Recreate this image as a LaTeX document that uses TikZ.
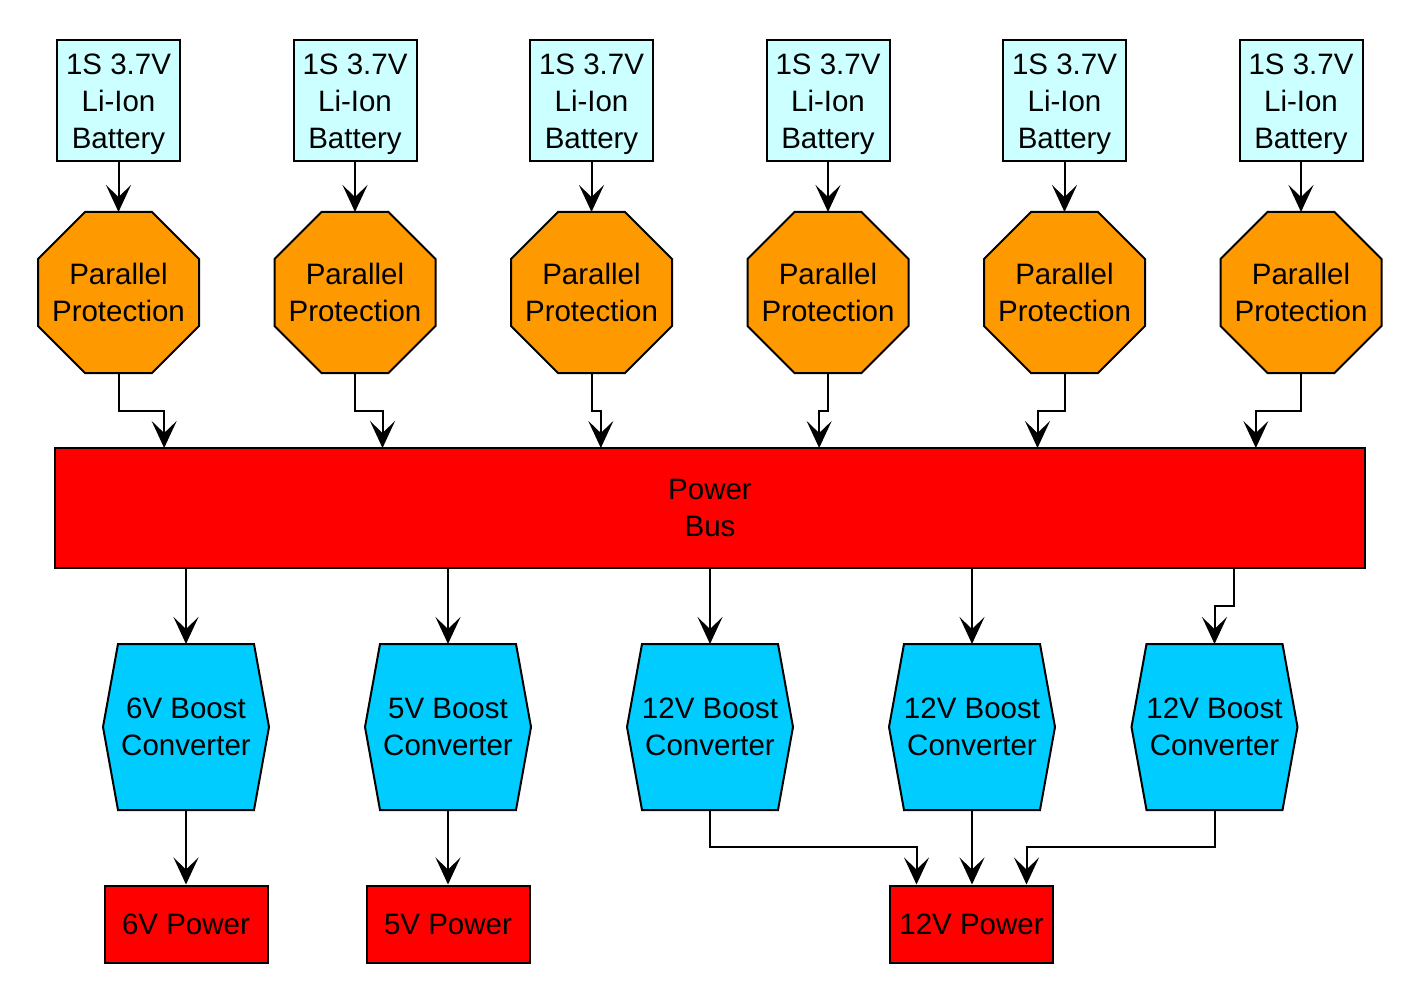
\documentclass[tikz,border=0pt]{standalone}
\usepackage{fontspec}
\setmainfont{Liberation Sans}
\usetikzlibrary{arrows.meta,calc,backgrounds}
\definecolor{battfill}{HTML}{CCFFFF}
\definecolor{protfill}{HTML}{FF9900}
\definecolor{busred}{HTML}{FF0000}
\definecolor{convfill}{HTML}{00CCFF}
\begin{document}
\begin{tikzpicture}[x=1pt,y=-1pt]
\tikzset{
  lbl/.style={font=\fontsize{29.5pt}{37pt}\selectfont, align=center, text=black},
  base/.style={lbl, draw=black, line width=2pt, inner sep=2pt},
  batt/.style={draw=black, line width=2pt, rectangle, fill=battfill, minimum width=123pt, minimum height=121pt, inner sep=0pt},
  prot/.style={lbl, minimum width=161pt, minimum height=161pt, inner sep=0pt, outer sep=0pt},
  octa/.style={fill=protfill, draw=black, line width=2pt},
  busbox/.style={base, rectangle, fill=busred, minimum width=1310pt, minimum height=120pt, outer sep=0pt},
  conv/.style={lbl, minimum width=166pt, minimum height=166pt, inner sep=0pt, outer sep=0pt},
  hexa/.style={fill=convfill, draw=black, line width=2pt},
  pwr/.style={base, rectangle, fill=busred, minimum width=163pt, minimum height=77pt},
  arr/.style={draw=black, line width=2pt, -{Stealth[length=27pt,width=25pt,inset=12pt]}},
}
\useasboundingbox (0,0) rectangle (1419,1000);
% batteries and protection
\foreach \i/\x in {1/118.5,2/355,3/591.5,4/828,5/1064.5,6/1301}{
  \node[batt] (b\i) at (\x,100.5) {};
  \node[lbl, inner sep=0pt] (bt\i) at ($(b\i.center)+(0,4)$) {1S 3.7V\\Li-Ion\\Battery};
  \node[prot] (o\i) at (\x,292.5) {Parallel\\Protection};
}
\begin{scope}[on background layer]
\foreach \i in {1,...,6}{
  \path[octa] ($(o\i.north west)+(47,0)$) -- ($(o\i.north east)+(-47,0)$) -- ($(o\i.north east)+(0,47)$)
    -- ($(o\i.south east)+(0,-47)$) -- ($(o\i.south east)+(-47,0)$) -- ($(o\i.south west)+(47,0)$)
    -- ($(o\i.south west)+(0,-47)$) -- ($(o\i.north west)+(0,47)$) -- cycle;
}
\end{scope}
% bus
\node[busbox] (bus) at (710,508) {Power\\Bus};
% converters
\node[conv] (c1) at (186,727) {6V Boost\\Converter};
\node[conv] (c2) at (448,727) {5V Boost\\Converter};
\node[conv] (c3) at (710,727) {12V Boost\\Converter};
\node[conv] (c4) at (972,727) {12V Boost\\Converter};
\node[conv] (c5) at (1214.5,727) {12V Boost\\Converter};
\begin{scope}[on background layer]
\foreach \n in {c1,c2,c3,c4,c5}{
  \path[hexa] ($(\n.north west)+(15,0)$) -- ($(\n.north east)+(-15,0)$) -- (\n.east)
    -- ($(\n.south east)+(-15,0)$) -- ($(\n.south west)+(15,0)$) -- (\n.west) -- cycle;
}
\end{scope}
% power outputs
\node[pwr] (p6) at (186,924) {6V Power};
\node[pwr] (p5) at (448,924) {5V Power};
\node[pwr] (p12) at (971.5,924) {12V Power};
% bus connection points
\foreach \i in {1,...,6}{
  \coordinate (bi\i) at ($(bus.north west)!{(2*\i-1)/12}!(bus.north east)$);
}
\foreach \j in {1,...,5}{
  \coordinate (bo\j) at ($(bus.south west)!{(2*\j-1)/10}!(bus.south east)$);
}
\coordinate (pa) at ($(p12.north west)!{1/6}!(p12.north east)$);
\coordinate (pc) at ($(p12.north west)!{5/6}!(p12.north east)$);
% connectors
\foreach \i in {1,...,6}{
  \draw[arr] (b\i.south) -- (o\i.north);
  \draw[arr] (o\i.south) |- ($(o\i.south)!0.5!(bi\i)$) -| (bi\i);
}
\foreach \j in {1,...,5}{
  \draw[arr] (bo\j) |- ($(bo\j)!0.5!(c\j.north)$) -| (c\j.north);
}
\draw[arr] (c1.south) -- (p6.north);
\draw[arr] (c2.south) -- (p5.north);
\draw[arr] (c3.south) |- ($(c3.south)!0.5!(pa)$) -| (pa);
\draw[arr] (c4.south) -- (c4.south |- p12.north);
\draw[arr] (c5.south) |- ($(c5.south)!0.5!(pc)$) -| (pc);
\end{tikzpicture}
\end{document}
